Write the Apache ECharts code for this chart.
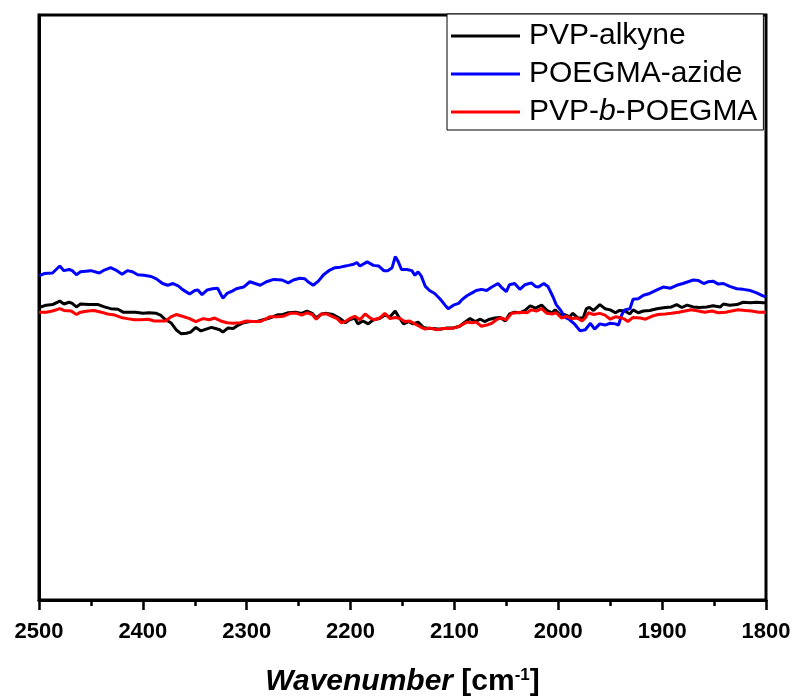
<!DOCTYPE html>
<html>
<head>
<meta charset="utf-8">
<script src="https://cdn.jsdelivr.net/npm/echarts@6/dist/echarts.min.js"></script>
<style>
html,body{margin:0;padding:0;background:#fff;}
#chart{width:797px;height:700px;}
</style>
</head>
<body>
<div id="chart"></div>
<script>
// Tick labels on x axis
var xTicks = [2500, 2400, 2300, 2200, 2100, 2000, 1900, 1800];

var seriesNames = ['PVP-alkyne', 'POEGMA-azide', 'PVP-b-POEGMA'];

// PVP-alkyne (black)
var alkyneWn = [2500,2493,2487,2480,2476,2471,2468,2464,2460,2452,2443,2437,2431,2424,2419,2413,2407,2400,2394,2387,2383,2378,2373,2368,2363,2358,2354,2349,2344,2339,2334,2330,2326,2323,2318,2313,2308,2303,2297,2290,2284,2278,2271,2265,2260,2253,2247,2242,2237,2233,2228,2223,2217,2210,2205,2201,2196,2193,2188,2183,2178,2172,2167,2162,2157,2154,2149,2144,2140,2135,2130,2125,2120,2114,2107,2101,2095,2090,2085,2080,2075,2071,2066,2061,2056,2051,2047,2042,2037,2032,2027,2022,2016,2011,2006,2003,1998,1994,1989,1986,1981,1976,1973,1970,1966,1960,1955,1950,1945,1941,1936,1931,1928,1923,1918,1912,1905,1897,1891,1886,1881,1876,1870,1864,1857,1851,1844,1841,1835,1828,1822,1815,1809,1803,1800];
var alkyneT = [50.0,50.4,50.5,51.1,50.6,50.9,50.7,50.1,50.6,50.5,50.5,50.1,49.8,49.7,49.2,49.2,49.2,49.0,49.1,49.0,48.7,47.9,47.4,46.2,45.5,45.6,45.8,46.6,46.0,46.3,46.6,46.4,46.2,45.8,46.5,46.4,47.0,47.4,47.6,47.6,47.9,48.2,48.7,48.8,49.1,49.2,49.0,49.4,49.0,48.2,48.9,49.0,48.8,48.1,47.4,47.9,48.2,47.2,47.7,47.2,47.9,48.1,48.7,48.4,49.4,48.5,47.2,47.6,47.2,47.5,46.6,46.4,46.4,46.3,46.5,46.5,46.8,47.5,48.1,47.6,48.0,47.6,48.0,48.2,48.3,47.7,48.9,49.2,49.1,49.5,50.3,49.9,50.4,49.5,49.1,49.6,48.7,48.8,48.4,49.0,48.2,48.2,49.8,50.0,49.5,50.5,49.8,49.6,49.1,49.5,49.4,48.9,49.6,49.1,49.4,49.5,49.8,50.0,50.1,50.5,50.0,50.4,50.1,50.0,50.1,50.3,50.1,50.6,50.4,50.5,50.9,50.8,50.9,50.8,50.8];

// POEGMA-azide (blue)
var azideWn = [2500,2495,2487,2480,2476,2471,2468,2464,2460,2455,2450,2442,2437,2431,2426,2420,2415,2410,2405,2399,2392,2387,2381,2376,2371,2366,2362,2355,2350,2347,2343,2338,2333,2328,2323,2319,2314,2310,2303,2297,2292,2287,2281,2274,2266,2260,2255,2249,2244,2241,2236,2231,2226,2220,2215,2210,2205,2202,2197,2194,2191,2184,2178,2173,2168,2164,2160,2157,2154,2151,2146,2141,2138,2135,2132,2128,2124,2119,2114,2109,2106,2101,2096,2093,2088,2083,2079,2074,2069,2064,2058,2055,2050,2047,2042,2037,2032,2026,2022,2019,2014,2010,2005,2002,1998,1994,1989,1984,1979,1974,1969,1965,1960,1955,1950,1945,1942,1939,1936,1931,1928,1923,1918,1912,1905,1899,1892,1886,1880,1875,1870,1865,1860,1856,1851,1846,1841,1835,1828,1822,1815,1809,1803,1800];
var azideT = [55.4,55.8,55.9,57.1,56.3,56.5,56.3,55.6,56.1,56.2,56.3,55.9,56.4,56.8,56.4,55.7,56.3,56.1,55.6,55.5,55.3,54.9,54.1,53.8,54.1,53.7,53.1,52.3,52.9,53.0,52.2,53.0,53.2,53.3,51.6,52.4,52.8,53.2,53.5,54.4,54.1,53.8,54.4,54.8,54.7,54.2,54.7,55.0,54.9,54.4,53.8,54.5,55.6,56.4,56.8,56.9,57.1,57.2,57.4,57.7,57.1,57.8,57.2,57.1,56.3,56.3,56.8,58.7,57.8,56.5,56.5,56.3,55.5,56.1,55.4,53.6,52.9,52.4,51.5,50.4,49.8,50.4,50.7,51.3,52.0,52.5,52.9,53.1,52.9,53.5,54.1,53.5,52.7,53.9,54.1,53.1,53.9,54.2,53.6,53.5,54.1,53.6,51.8,50.5,49.6,48.4,47.9,47.1,46.0,46.2,47.3,46.3,47.2,47.0,47.3,47.2,47.0,48.7,49.6,49.8,51.4,51.5,52.1,52.4,53.0,53.5,53.3,53.8,54.1,54.4,54.7,54.6,54.1,54.4,54.5,54.0,54.1,53.6,53.2,53.1,52.9,52.5,52.0,51.8];

// PVP-b-POEGMA (red)
var blockWn = [2500,2493,2487,2480,2476,2469,2464,2460,2453,2447,2440,2434,2427,2421,2415,2408,2402,2395,2389,2383,2378,2373,2368,2362,2355,2349,2342,2336,2331,2325,2319,2313,2306,2300,2294,2287,2282,2278,2271,2265,2258,2252,2247,2242,2237,2233,2228,2223,2218,2213,2209,2205,2201,2196,2191,2186,2181,2177,2172,2167,2162,2157,2152,2148,2143,2138,2133,2128,2124,2117,2111,2104,2098,2093,2088,2083,2079,2074,2069,2064,2059,2055,2050,2045,2040,2035,2030,2026,2021,2016,2011,2006,2002,1997,1992,1987,1982,1977,1974,1971,1966,1960,1955,1950,1945,1941,1936,1933,1928,1921,1916,1910,1904,1897,1891,1884,1878,1872,1865,1859,1852,1846,1839,1833,1827,1820,1814,1807,1803,1800];
var blockT = [49.2,49.2,49.4,49.8,49.5,49.4,48.8,49.2,49.4,49.5,49.2,48.9,48.7,48.3,48.1,47.9,47.9,48.0,47.7,47.7,47.7,48.4,48.8,48.5,48.1,47.6,48.1,47.9,48.2,47.7,47.4,47.3,47.4,47.7,47.6,47.6,48.0,48.4,48.4,48.5,49.0,49.0,48.7,49.1,48.8,48.0,48.9,48.9,48.5,48.1,47.4,47.6,48.1,48.5,47.9,48.9,48.2,47.9,48.2,49.0,48.1,48.3,48.1,47.6,47.7,47.2,46.7,46.3,46.5,46.2,46.4,46.4,46.6,47.0,47.5,47.4,47.5,46.8,47.0,47.3,48.0,48.2,47.9,49.0,49.1,49.2,49.1,49.6,49.4,49.8,49.0,48.9,49.1,48.2,48.5,48.1,48.2,47.7,48.2,49.1,48.8,49.0,48.7,48.0,48.4,48.3,48.0,47.6,48.3,48.2,48.0,48.5,48.8,48.9,49.0,49.2,49.4,49.6,49.4,49.2,49.4,49.1,49.2,49.4,49.6,49.5,49.4,49.2,49.2,49.2];

function zip(a, b) { var out = []; for (var i = 0; i < a.length; i++) out.push([a[i], b[i]]); return out; }

var FONT = 'Liberation Sans, Arial, Helvetica, sans-serif';
var chart = echarts.init(document.getElementById('chart'), null, {renderer: 'canvas'});

function mkSeries(name, wn, t, color) {
  return {
    name: name, type: 'line', data: zip(wn, t),
    showSymbol: false, symbol: 'none', smooth: false,
    lineStyle: {color: color, width: 3},
    itemStyle: {color: color},
    animation: false
  };
}

chart.setOption({
  backgroundColor: '#fff',
  animation: false,
  grid: {left: 39, right: 31, top: 15, bottom: 100, containLabel: false, outerBoundsMode: 'none',
         show: true, borderColor: '#000', borderWidth: 3, backgroundColor: 'transparent'},
  legend: {
    left: 447, top: 14, orient: 'vertical',
    icon: 'rect',
    itemWidth: 69, itemHeight: 3, itemGap: 8,
    padding: [7, 6, 3, 4],
    borderColor: '#000', borderWidth: 1, borderRadius: 0, backgroundColor: '#fff',
    data: seriesNames,
    formatter: function (name) {
      if (name === 'PVP-b-POEGMA') return '{n|PVP-}{i|b}{n|-POEGMA}';
      return '{n|' + name + '}';
    },
    textStyle: {
      fontFamily: FONT, fontSize: 30, color: '#000', lineHeight: 30, padding: [0, 0, 0, 4],
      rich: {
        n: {fontFamily: FONT, fontSize: 30, color: '#000', lineHeight: 30},
        i: {fontFamily: FONT, fontSize: 30, color: '#000', lineHeight: 30, fontStyle: 'italic'}
      }
    }
  },
  xAxis: {
    type: 'value', min: 1800, max: 2500, interval: 100, inverse: true,
    axisLine: {show: true, onZero: false, lineStyle: {color: '#000', width: 3}},
    axisTick: {show: true, length: 10, lineStyle: {color: '#000', width: 2.5}},
    minorTick: {show: true, splitNumber: 2, length: 6, lineStyle: {color: '#000', width: 2.5}},
    splitLine: {show: false},
    axisLabel: {
      fontFamily: FONT, fontWeight: 'bold', fontSize: 22, color: '#000', margin: 21,
      formatter: function (v) { return xTicks.indexOf(v) >= 0 ? String(v) : ''; }
    },
    name: '{i|Wavenumber} {b|[cm}{s|-1}{b|]}',
    nameLocation: 'middle', nameGap: 67,
    nameTextStyle: {
      fontFamily: FONT, fontSize: 30, fontWeight: 'bold', color: '#000',
      rich: {
        i: {fontFamily: FONT, fontSize: 30, fontWeight: 'bold', fontStyle: 'italic', color: '#000', lineHeight: 30},
        b: {fontFamily: FONT, fontSize: 30, fontWeight: 'bold', color: '#000', lineHeight: 30},
        s: {fontFamily: FONT, fontSize: 17, fontWeight: 'bold', color: '#000', verticalAlign: 'top', lineHeight: 17}
      }
    }
  },
  yAxis: {
    type: 'value', min: 0, max: 100,
    axisLine: {show: true, onZero: false, lineStyle: {color: '#000', width: 3}},
    axisTick: {show: false}, axisLabel: {show: false}, splitLine: {show: false}
  },
  series: [
    mkSeries('PVP-alkyne', alkyneWn, alkyneT, '#000000'),
    mkSeries('POEGMA-azide', azideWn, azideT, '#0000ff'),
    mkSeries('PVP-b-POEGMA', blockWn, blockT, '#ff0000')
  ]
});
</script>
</body>
</html>
